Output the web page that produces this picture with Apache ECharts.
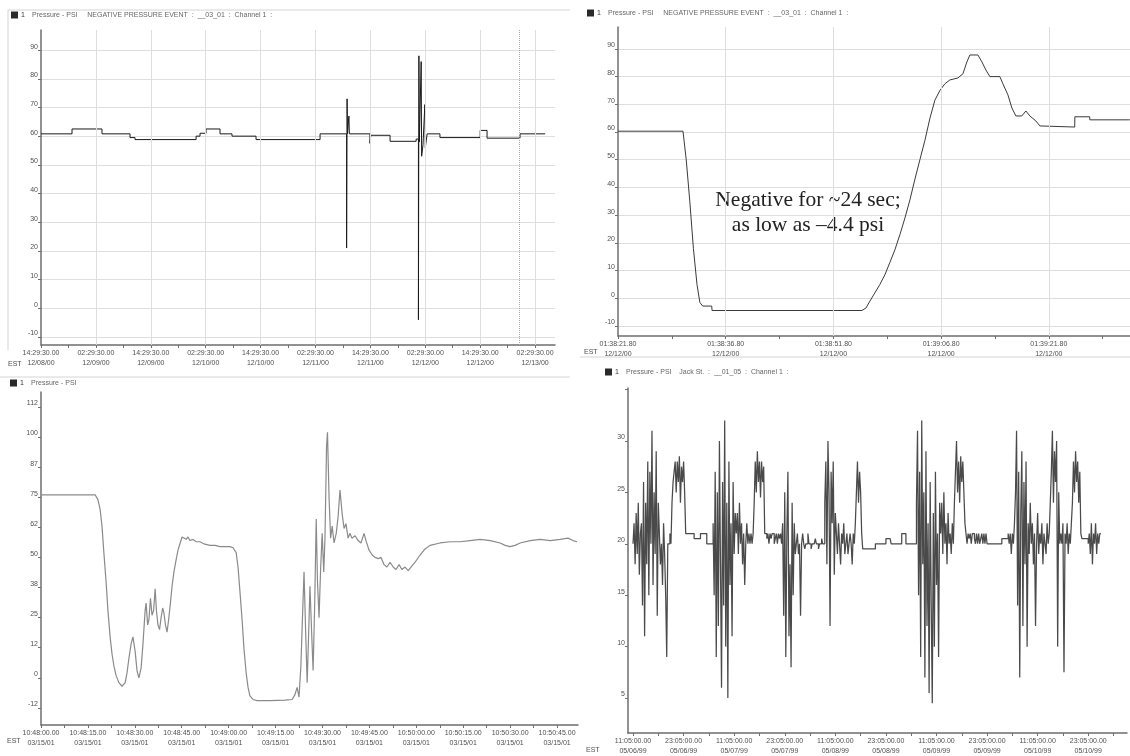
<!DOCTYPE html>
<html>
<head>
<meta charset="utf-8">
<script src="https://cdn.jsdelivr.net/npm/echarts@6/dist/echarts.min.js"></script>
<style>
  html, body { margin: 0; padding: 0; background: #fff; }
  #chart { width: 1130px; height: 756px; }
</style>
</head>
<body>
<div id="chart"></div>
<script>
// ---------- Panel 1: multi-day pressure log (hours from 12/08/00 14:29:30) ----------
const P1_TICK_HOURS = [0, 12, 24, 36, 48, 60, 72, 84, 96, 108];
const P1_TIMES = ['14:29:30.00', '02:29:30.00', '14:29:30.00', '02:29:30.00', '14:29:30.00',
                  '02:29:30.00', '14:29:30.00', '02:29:30.00', '14:29:30.00', '02:29:30.00'];
const P1_DATES = ['12/08/00', '12/09/00', '12/09/00', '12/10/00', '12/10/00',
                  '12/11/00', '12/11/00', '12/12/00', '12/12/00', '12/13/00'];
const P1_Y_TICKS = [-10, 0, 10, 20, 30, 40, 50, 60, 70, 80, 90];
const P1_CURSOR_HOUR = 104.5;
const p1Hours = [0, 6.78, 13.33, 19.46, 20.55, 33.9, 34.76, 36.07, 39.13, 41.75, 47.0, 61.0,
                 66.8, 66.9, 67.0, 67.3, 67.4, 71.9, 72.1, 76.3, 82.0,
                 82.5, 82.6, 82.7, 83.1, 83.2, 83.5, 83.9, 84.0, 84.4, 87.2, 96.0, 97.5, 104.7, 110.2];
const p1Psi   = [60.8, 62.5, 60.8, 59.5, 58.8, 60.0, 61.0, 62.5, 60.8, 60.0, 58.8, 60.8,
                 21, 73, 60.8, 67, 60.8, 57.5, 60.3, 58.2, 59.0,
                 -4, 88, 58, 86, 53, 57, 71, 56, 60.8, 59.5, 62, 59.3, 60.8, 60.8];

// ---------- Panel 2: the negative pressure event (seconds from 01:38:21.80) ----------
const P2_TICK_SECONDS = [0, 15, 30, 45, 60];
const P2_TIMES = ['01:38:21.80', '01:38:36.80', '01:38:51.80', '01:39:06.80', '01:39:21.80'];
const P2_DATES = ['12/12/00', '12/12/00', '12/12/00', '12/12/00', '12/12/00'];
const P2_Y_TICKS = [-10, 0, 10, 20, 30, 40, 50, 60, 70, 80, 90];
const p2Seconds = [0, 9.05, 9.5, 10.0, 10.5, 11.0, 11.4, 11.8, 13.05, 13.1, 33.97,
                   34.53, 35.08, 35.78, 36.47, 37.17, 37.87, 38.56, 39.26, 39.96, 40.65,
                   41.35, 42.04, 42.74, 43.44, 44.13, 44.83, 45.52, 46.22, 47.33, 48.03,
                   48.59, 49.0, 50.12, 50.68, 51.23, 51.79, 53.18, 53.6, 54.3, 54.85,
                   55.41, 56.24, 56.8, 57.36, 58.19, 58.75, 59.0, 63.6, 63.62, 65.69, 65.71, 71.28];
const p2Psi     = [60.3, 60.3, 50, 35, 18, 5, -1.5, -2.8, -2.8, -4.4, -4.4,
                   -3.5, -1, 2, 5, 8.5, 13, 17.5, 23, 29, 35.5,
                   43, 50, 57, 65, 71.5, 75, 77.4, 78.8, 79.5, 81,
                   85.3, 87.8, 87.8, 85.3, 82.4, 80, 80, 77.4, 73.4, 68.7,
                   65.8, 65.8, 67.6, 65.8, 64, 62.2, 61.8, 61.8, 65.5, 65.5, 64.4, 64.4];
const P2_NOTE = ['Negative for ~24 sec;', 'as low as \u20134.4 psi'];

// ---------- Panel 3: transient record (seconds from 10:48:00.00) ----------
const P3_TICK_SECONDS = [0, 15, 30, 45, 60, 75, 90, 105, 120, 135, 150, 165];
const P3_TIMES = ['10:48:00.00', '10:48:15.00', '10:48:30.00', '10:48:45.00', '10:49:00.00', '10:49:15.00',
                  '10:49:30.00', '10:49:45.00', '10:50:00.00', '10:50:15.00', '10:50:30.00', '10:50:45.00'];
const P3_DATES = ['03/15/01', '03/15/01', '03/15/01', '03/15/01', '03/15/01', '03/15/01',
                  '03/15/01', '03/15/01', '03/15/01', '03/15/01', '03/15/01', '03/15/01'];
const P3_Y_TICKS = [-12.5, 0, 12.5, 25, 37.5, 50, 62.5, 75, 87.5, 100, 112.5];
const P3_Y_LABELS = ['-12', '0', '12', '25', '38', '50', '62', '75', '87', '100', '112'];
const p3Seconds = [0, 17.3, 18.2, 18.9, 19.5, 20.1, 20.8, 21.4, 22.1, 22.7, 23.3, 24.0, 24.9, 25.9, 26.9,
                   27.5, 28.1, 28.8, 29.4, 30.1, 30.7, 31.3, 32.0, 32.6, 33.3, 33.6, 34.1, 34.5, 35.0,
                   35.5, 36.0, 36.5, 36.9, 37.4, 37.9, 38.4, 38.9, 39.3, 39.8, 40.3, 40.8, 41.3, 41.9,
                   42.5, 43.2, 43.8, 44.5, 45.1, 45.7, 46.4, 47.0, 47.6, 48.6, 49.6, 50.8, 52.4, 54.0,
                   55.7, 57.2, 58.8, 60.4, 61.4, 62.4, 63.0, 63.6, 64.3, 64.9, 65.6, 66.2, 66.8, 67.8,
                   69.1, 73.2, 78.0, 80.3, 81.2, 81.9, 82.5, 83.1, 83.6, 84.1, 84.6, 85.1, 85.5, 86.0,
                   86.5, 87.0, 87.5, 88.0, 88.4, 88.9, 89.4, 89.9, 90.4, 90.8, 91.3, 91.6, 92.1, 92.6,
                   93.1, 93.7, 94.4, 95.0, 95.6, 96.3, 96.9, 97.5, 98.2, 98.8, 99.4, 100.4, 101.4, 102.3,
                   103.3, 103.9, 104.9, 105.9, 106.8, 107.8, 108.7, 109.7, 110.6, 111.6, 112.6, 113.5,
                   114.5, 115.4, 116.4, 117.4, 118.3, 119.6, 121.2, 122.8, 124.4, 127.6, 130.8, 134.0,
                   137.2, 140.4, 143.6, 146.8, 148.4, 150.0, 151.6, 153.2, 156.4, 159.6, 162.8, 166.0,
                   168.5, 170.1, 171.4];
const p3Psi     = [76, 76, 74, 70, 63, 52, 40, 28, 17, 10, 5, 1, -2, -3.5, -2,
                   2, 8, 14, 17, 11, 3, 0, 4, 14, 28, 31, 22, 24, 33,
                   26, 28, 37, 28, 22, 20, 25, 29, 27, 22, 19, 24, 30, 38,
                   44, 49, 53, 56, 58.5, 59, 57.5, 58.5, 57, 57.5, 56.5, 56.5, 55.5, 55,
                   55, 54.5, 54.5, 54.5, 54, 52, 46, 36, 24, 12, 2, -4, -7.5, -9,
                   -9.5, -9.5, -9.3, -9, -7, -4, -8, 5, 25, 44, 20, -2, 15, 38,
                   20, 3, 30, 66, 40, 25, 45, 60, 44, 58, 96, 102, 75, 58,
                   63, 56, 60, 67, 78, 68, 62, 64, 58, 60, 58, 59, 57, 56,
                   60, 57, 53, 51, 50, 49.5, 50, 47, 46, 48, 46, 45,
                   47, 45, 46, 44.5, 46, 48, 51, 53.5, 55, 56, 56.5, 56.5,
                   57, 57.5, 57, 56, 55, 54.5, 55, 56, 57, 57.5, 57, 57.5,
                   58, 57, 56.5];

// ---------- Panel 4: Jack St. logger, one sample every 15 minutes from 05/06/99 11:05 ----------
const P4_SAMPLE_HOURS = 0.25;
const P4_TICK_HOURS = [0, 12, 24, 36, 48, 60, 72, 84, 96, 108];
const P4_TIMES = ['11:05:00.00', '23:05:00.00', '11:05:00.00', '23:05:00.00', '11:05:00.00',
                  '23:05:00.00', '11:05:00.00', '23:05:00.00', '11:05:00.00', '23:05:00.00'];
const P4_DATES = ['05/06/99', '05/06/99', '05/07/99', '05/07/99', '05/08/99',
                  '05/08/99', '05/09/99', '05/09/99', '05/10/99', '05/10/99'];
const P4_Y_TICKS = [5, 10, 15, 20, 25, 30, 35];
const P4_Y_LABELED = [5, 10, 15, 20, 25, 30];
const p4Psi = [
  20, 22, 18, 23, 19, 24, 17, 21,
  22, 14, 26, 11, 24, 18, 28, 15, 27, 20, 31, 16, 25, 19, 29, 13, 24, 21, 18,
  20, 16, 22, 19, 15, 9, 20,
  20, 21, 20, 24, 26, 27,
  28, 25, 28, 26, 28.5, 24, 27.5, 26, 28, 25,
  21, 21, 21, 21, 21, 21, 21, 21, 20.5, 20.5, 20.5, 20.5, 20.5, 20.5, 21, 21, 21, 21, 21, 21, 20, 20, 20, 20, 20, 20,
  22, 15, 27, 9, 25, 12, 30, 18, 6, 26, 14, 32, 10, 24, 5, 28, 16, 22, 11, 26, 19, 23,
  21, 23, 19, 24, 20, 22, 18, 21, 16, 20, 22,
  20, 21, 20, 21, 20, 21, 24,
  28, 25, 29, 26, 28, 24.5, 28, 26, 27.5,
  21, 21, 20.5, 21, 20, 21, 20.5, 21, 21, 20, 20.5, 21, 20, 21, 20.5, 21, 20,
  22, 13, 25, 9, 21, 27, 11, 18, 8, 24, 15, 22, 19,
  20, 21, 19, 20, 13, 20, 21, 20, 19.5, 20, 20, 21, 20, 20, 19.5, 20, 20, 20, 20.5, 20, 20, 19.5, 20, 20, 20.5, 20, 20,
  24, 28, 18, 30, 25, 12, 27, 22, 28, 17, 23,
  21, 19, 22, 20, 18, 21, 20, 22, 19, 20, 21, 19, 20, 21, 20, 18, 21, 20, 22,
  25, 28, 24, 27, 25, 21,
  19.5, 19.5, 19.5, 19.5, 19.5, 19.5, 19.5, 19.5, 19.5, 19.5, 19.5, 19.5,
  20, 20, 20, 20, 20, 20, 20, 20, 20, 20, 20.5, 20.5, 20.5, 20.5, 20.5,
  20, 20, 20, 20, 20, 20, 20, 20, 20, 20, 21, 21, 21, 21, 20, 20, 20, 20, 20, 20, 20, 20, 20, 20,
  24, 31, 15, 27, 9, 32, 18, 25, 7, 29, 12, 22, 5.5, 26, 14, 4.5, 23, 10, 27, 16, 21, 9, 24,
  21, 24, 19, 25, 20, 22, 18, 23, 20, 21, 19, 22, 20, 24,
  27, 30, 25, 28, 24, 28.5, 26, 28, 25, 22,
  21, 20, 21, 20.5, 21, 20, 21, 21, 20.5, 20, 21, 20, 21, 20, 20.5, 21, 20, 21, 20, 21,
  20, 20, 20, 20, 20, 20, 20, 20, 20, 20, 20, 20, 20, 20, 20.5, 20.5, 20.5, 20.5, 20.5, 20.5,
  21, 20, 21, 19, 21, 20, 22,
  25, 31, 14, 27, 7, 23, 29, 12, 26, 18, 28, 10, 22, 19, 24,
  20, 22, 18, 21, 12, 20, 23, 19, 21, 20, 22, 18, 21, 20, 19, 22, 20, 21, 24,
  27, 31, 24, 29, 26, 30, 10, 25, 20,
  21, 20, 22, 7.5, 21, 20, 22, 19, 21, 20, 22, 24,
  28, 25, 29, 26, 28, 24, 27,
  21, 20.5, 20.5, 20.5, 20.5, 20.5, 20.5, 20, 21, 19, 22, 18, 21, 20, 22, 19, 21, 20, 21, 21
];

// ---------- shared styling helpers ----------
const FONT = 'Liberation Sans';
const AXIS_COLOR = '#6e6e6e';
const TEXT_COLOR = '#505050';
const GRID_COLOR = '#dedede';

function pairs(xs, ys) { return xs.map((x, i) => [x, ys[i]]); }
function midpoints(ticks, max) {
  const step = ticks[1] - ticks[0];
  return ticks.map(t => t + step / 2).filter(t => t < max);
}
function nearestIndex(list, v) {
  let k = 0, best = Infinity;
  list.forEach((m, j) => { const d = Math.abs(m - v); if (d < best) { best = d; k = j; } });
  return k;
}

function timeAxis(gridIndex, min, max, majors, times, dates) {
  return {
    type: 'value', gridIndex, min, max,
    axisLine: { show: true, onZero: false, lineStyle: { color: AXIS_COLOR, width: 1.5 } },
    axisTick: { show: true, customValues: majors.concat(midpoints(majors, max)), length: 3,
                lineStyle: { color: AXIS_COLOR } },
    axisLabel: {
      customValues: majors, fontSize: 7, lineHeight: 10, margin: 3, color: TEXT_COLOR, fontFamily: FONT,
      formatter: v => { const k = nearestIndex(majors, v); return times[k] + '\n' + dates[k]; }
    },
    splitLine: { show: false }
  };
}

function psiAxis(gridIndex, min, max, ticks, labelValues, labelText, showGrid) {
  return {
    type: 'value', gridIndex, min, max,
    axisLine: { show: true, onZero: false, lineStyle: { color: AXIS_COLOR, width: 1.5 } },
    axisTick: { show: true, customValues: ticks, length: 3, lineStyle: { color: AXIS_COLOR } },
    axisLabel: {
      customValues: labelValues, fontSize: 7, margin: 3, color: TEXT_COLOR, fontFamily: FONT,
      verticalAlign: 'bottom',
      formatter: v => labelText ? labelText[nearestIndex(labelValues, v)] : String(Math.round(v))
    },
    splitLine: { show: showGrid, lineStyle: { color: GRID_COLOR, width: 1 } }
  };
}

function gridLines(index, values, extra) {
  return {
    type: 'line', xAxisIndex: index, yAxisIndex: index, data: [], silent: true, z: 1,
    markLine: {
      symbol: 'none', silent: true, animation: false, label: { show: false },
      lineStyle: { color: GRID_COLOR, width: 1, type: 'solid' },
      data: values.map(v => ({ xAxis: v })).concat(extra || [])
    }
  };
}

function trace(index, data, color, width, step) {
  return {
    type: 'line', xAxisIndex: index, yAxisIndex: index, data, step: step || false,
    showSymbol: false, symbol: 'none', z: 3, animation: false,
    lineStyle: { color, width }
  };
}

function title(x, y, text) {
  return [
    { type: 'rect', shape: { x: x, y: y - 3.5, width: 7, height: 7 }, style: { fill: '#2a2a2a' } },
    { type: 'text', x: x + 10, y: y, style: { text: '1', fontSize: 7, fontFamily: FONT, fill: '#333', verticalAlign: 'middle' } },
    { type: 'text', x: x + 21, y: y, style: { text: text, fontSize: 7, fontFamily: FONT, fill: '#666', verticalAlign: 'middle' } }
  ];
}
function est(x, y) {
  return { type: 'text', x, y, style: { text: 'EST', fontSize: 7, fontFamily: FONT, fill: TEXT_COLOR, verticalAlign: 'middle' } };
}
function rule(x1, y1, x2, y2) {
  return { type: 'line', shape: { x1, y1, x2, y2 }, style: { stroke: '#d4d4d4', lineWidth: 1 } };
}

const p4Data = p4Psi.map((v, i) => [i * P4_SAMPLE_HOURS, v]);

const option = {
  backgroundColor: '#ffffff',
  animation: false,
  grid: [
    { left: 41, top: 30, width: 514, height: 315 },
    { left: 618, top: 27, width: 512, height: 309 },
    { left: 41, top: 392, width: 537, height: 333 },
    { left: 628, top: 388, width: 499, height: 345 }
  ],
  xAxis: [
    timeAxis(0, 0, 112.35, P1_TICK_HOURS, P1_TIMES, P1_DATES),
    timeAxis(1, 0, 71.3, P2_TICK_SECONDS, P2_TIMES, P2_DATES),
    timeAxis(2, 0, 171.7, P3_TICK_SECONDS, P3_TIMES, P3_DATES),
    timeAxis(3, -1.19, 117.2, P4_TICK_HOURS, P4_TIMES, P4_DATES)
  ],
  yAxis: [
    psiAxis(0, -12.8, 97, P1_Y_TICKS, P1_Y_TICKS, null, true),
    psiAxis(1, -13.6, 97.9, P2_Y_TICKS, P2_Y_TICKS, null, true),
    psiAxis(2, -19.6, 118.7, P3_Y_TICKS, P3_Y_TICKS, P3_Y_LABELS, false),
    psiAxis(3, 1.6, 35.15, P4_Y_TICKS, P4_Y_LABELED, null, false)
  ],
  series: [
    gridLines(0, P1_TICK_HOURS.slice(1), [{ xAxis: P1_CURSOR_HOUR, lineStyle: { color: '#a8a8a8', type: 'dotted', width: 1 } }]),
    gridLines(1, P2_TICK_SECONDS.slice(1)),
    trace(0, pairs(p1Hours, p1Psi), '#1a1a1a', 1, 'end'),
    trace(1, pairs(p2Seconds, p2Psi), '#3a3a3a', 1, false),
    trace(2, pairs(p3Seconds, p3Psi), '#8a8a8a', 1.2, false),
    trace(3, p4Data, '#4a4a4a', 1.25, 'end')
  ],
  graphic: [
    rule(8, 10, 570, 10), rule(8, 10, 8, 350), rule(0, 377, 570, 377), rule(580, 357, 1130, 357),
    ...title(11, 15, 'Pressure - PSI     NEGATIVE PRESSURE EVENT  :  __03_01  :  Channel 1  :'),
    ...title(587, 13, 'Pressure - PSI     NEGATIVE PRESSURE EVENT  :  __03_01  :  Channel 1  :'),
    ...title(10, 383, 'Pressure - PSI'),
    ...title(605, 372, 'Pressure - PSI    Jack St.  :  __01_05  :  Channel 1  :'),
    est(8, 364), est(584, 352), est(7, 741), est(586, 750),
    { type: 'text', x: 808, y: 200, style: { text: P2_NOTE[0], fontSize: 21.5, fontFamily: 'Liberation Serif', fill: '#222', align: 'center', verticalAlign: 'middle' } },
    { type: 'text', x: 808, y: 225, style: { text: P2_NOTE[1], fontSize: 21.5, fontFamily: 'Liberation Serif', fill: '#222', align: 'center', verticalAlign: 'middle' } }
  ]
};

const chart = echarts.init(document.getElementById('chart'), null, { renderer: 'canvas' });
chart.setOption(option);
</script>
</body>
</html>
